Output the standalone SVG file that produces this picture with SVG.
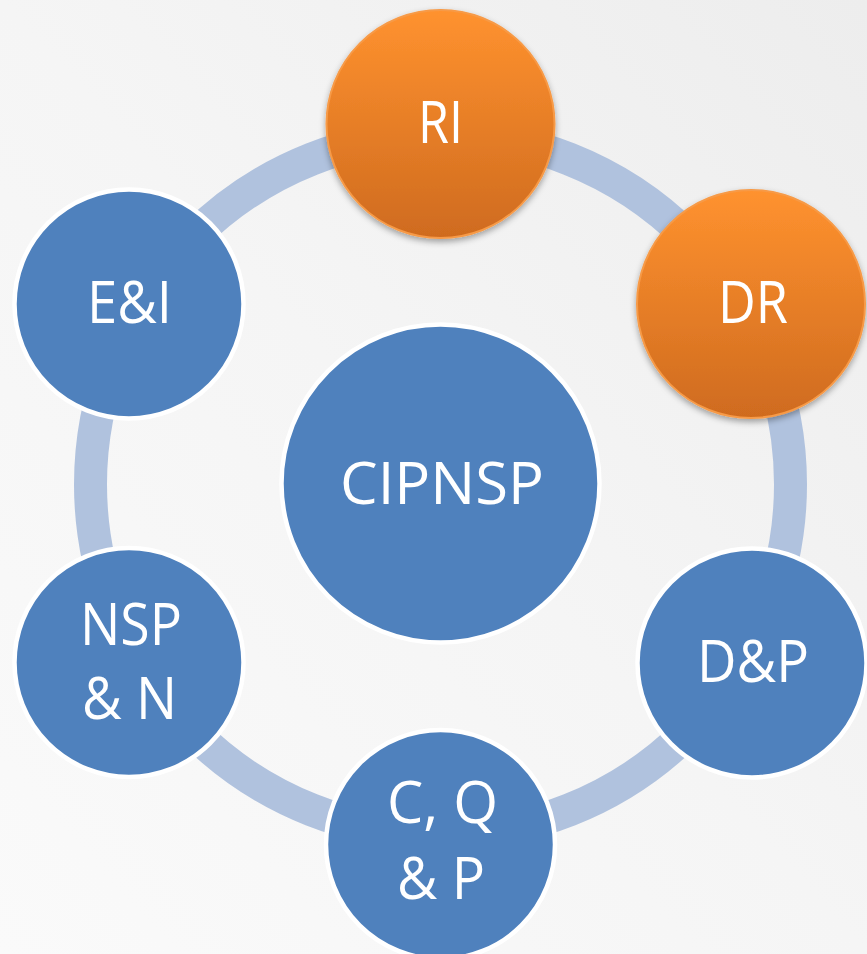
<svg xmlns="http://www.w3.org/2000/svg" width="867" height="954" viewBox="0 0 867 954">
  <defs>
    <linearGradient id="bg" x1="1" y1="0" x2="0" y2="1">
      <stop offset="0" stop-color="#EDEDED"/>
      <stop offset="0.5" stop-color="#F5F5F5"/>
      <stop offset="1" stop-color="#FAFAFA"/>
    </linearGradient>
    <linearGradient id="org" x1="0" y1="0" x2="0" y2="1">
      <stop offset="0" stop-color="#FF922F"/>
      <stop offset="1" stop-color="#CF6B1F"/>
    </linearGradient>
    <filter id="sh" x="-20%" y="-20%" width="140%" height="150%">
      <feDropShadow dx="0" dy="3" stdDeviation="3" flood-color="#000" flood-opacity="0.35"/>
    </filter>
  </defs>
  <style>
    .blue { fill: #4F81BD; stroke: #FFFFFF; stroke-width: 4.5; }
    .orange { fill: url(#org); stroke: #F79A46; stroke-width: 2; filter: url(#sh); }
    .lbl { fill: #FFFFFF; font-family: "Open Sans", "Liberation Sans", sans-serif; font-size: 58px; text-anchor: middle; }
  </style>
  <rect x="0" y="0" width="867" height="954" fill="url(#bg)"/>
  <g id="connectors">
    <circle cx="440.5" cy="484.5" r="350" fill="none" stroke="#B0C2DE" stroke-width="33"/>
  </g>
  <g id="node-CIPNSP">
    <circle class="blue" cx="440.5" cy="483.5" r="159"/>
    <text class="lbl" x="442" y="504" font-size="64" textLength="204" lengthAdjust="spacingAndGlyphs">CIPNSP</text>
  </g>
  <g id="node-RI">
    <circle class="orange" cx="440.5" cy="124" r="114"/>
    <text class="lbl" x="440.5" y="143" textLength="45" lengthAdjust="spacingAndGlyphs">RI</text>
  </g>
  <g id="node-DR">
    <circle class="orange" cx="751" cy="304" r="114"/>
    <text class="lbl" x="753" y="323" textLength="70" lengthAdjust="spacingAndGlyphs">DR</text>
  </g>
  <g id="node-DP">
    <circle class="blue" cx="752" cy="663" r="114.5"/>
    <text class="lbl" x="753" y="682" textLength="112" lengthAdjust="spacingAndGlyphs">D&amp;P</text>
  </g>
  <g id="node-CQP">
    <circle class="blue" cx="440.5" cy="844.5" r="114.5"/>
    <text class="lbl" x="442.5" y="823" textLength="111" lengthAdjust="spacingAndGlyphs">C, Q</text>
    <text class="lbl" x="441" y="899" textLength="88" lengthAdjust="spacingAndGlyphs">&amp; P</text>
  </g>
  <g id="node-NSPN">
    <circle class="blue" cx="129" cy="662.5" r="114.5"/>
    <text class="lbl" x="131" y="645" textLength="102" lengthAdjust="spacingAndGlyphs">NSP</text>
    <text class="lbl" x="129.5" y="719" textLength="95" lengthAdjust="spacingAndGlyphs">&amp; N</text>
  </g>
  <g id="node-EI">
    <circle class="blue" cx="129" cy="304" r="114.5"/>
    <text class="lbl" x="129.5" y="323" textLength="85" lengthAdjust="spacingAndGlyphs">E&amp;I</text>
  </g>
</svg>
